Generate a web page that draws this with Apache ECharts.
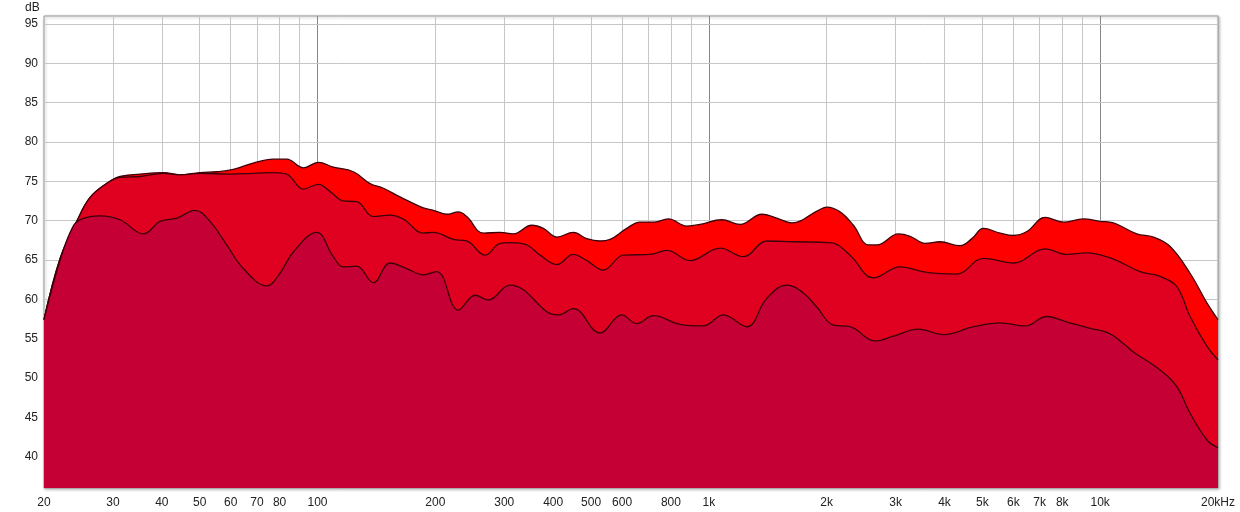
<!DOCTYPE html>
<html><head><meta charset="utf-8">
<script src="https://cdn.jsdelivr.net/npm/echarts@6/dist/echarts.min.js"></script>
<style>html,body{margin:0;padding:0;background:#fff}#c{width:1240px;height:512px}</style>
</head><body><div id="c"></div>
<script>
// Back curve (bright red)
const freqTop = [20,22,24.2,26.2,28.9,31.3,35.2,40.4,44.5,50.1,55.3,60.9,68.5,77.1,83.4,92,100.5,109.7,123.5,136.2,147.3,162.5,186.4,197.7,213.8,229,240.6,265.4,292.6,316.5,352.8,377.6,408.6,450.6,487.5,527.2,559.3,616.8,667.2,721.4,788.1,878.2,949.6,1079,1202,1366,1491,1629,1905,2001,2164,2340,2557,2687,3050,3268,3569,3898,4384,4698,5031,5548,6001,6494,7230,8053,9057,9990,10806,12404,13678,15090,16968,18752,20000];
const dbTop = [57.4,65.2,69.8,72.9,74.7,75.6,75.9,76.1,75.8,76.1,76.2,76.5,77.3,77.8,77.8,76.7,77.4,76.8,76.2,74.7,74.1,73.0,71.6,71.3,70.8,71.1,70.5,68.4,68.5,68.3,69.4,69.0,67.9,68.5,67.7,67.4,67.6,69.0,69.8,69.8,70.2,69.3,69.5,70.1,69.5,70.8,70.3,69.7,71.3,71.7,71.1,69.4,66.9,66.9,68.3,68.0,67.1,67.3,66.8,67.7,69.0,68.4,68.1,68.6,70.4,69.8,70.2,69.9,69.7,68.3,67.9,66.7,63.3,59.5,57.4];

// Middle curve (crimson)
const freqMid = [20,22,24.2,26.2,28.9,31.3,35.2,40.4,44.5,50.1,59.7,68.5,77.1,83.4,92,100.5,107.6,116.4,125.9,138.9,153.2,165.6,186.4,197.7,222.4,240.6,268,292.6,310.4,342.5,370.4,408.6,450.6,487.5,537.5,604.8,707.6,780.8,895.2,1068,1225,1406,1644,2040,2295,2632,3080,3606,4300,5031,6001,7230,8218,9240,10806,12647,14223,15694,16968,18752,20000];
const dbMid = [57.4,65.2,69.8,72.9,74.7,75.5,75.6,76.0,75.8,76.0,75.9,76.0,76.1,75.9,74.0,74.6,73.7,72.5,72.4,70.5,70.7,70.2,68.4,68.5,67.6,67.4,65.6,67.1,67.2,66.9,65.6,64.4,65.7,64.9,63.7,65.6,65.7,66.2,64.9,66.5,65.4,67.4,67.3,67.2,65.6,62.7,64.1,63.4,63.2,65.2,64.6,66.4,65.7,65.9,65.1,63.5,62.9,61.6,57.8,54.0,52.3];

// Front curve (dark red)
const freqLow = [20,22,23.7,25,27.8,31.3,35.9,39.6,43.7,48.6,53.1,58.6,64.6,74.2,80.2,86.7,99.5,109.7,116.4,125.9,138.9,153.2,169,186.4,201.7,229,252.8,273.3,310.4,335.8,385.4,412.4,450.6,527.2,599.1,654.3,721.4,844.4,968.2,1089,1250,1406,1581,1744,1887,2080,2295,2658,2962,3431,3977,4742,5548,6427,7304,8218,9424,10602,12157,14223,15694,16968,18752,20000];
const dbLow = [57.4,65.0,69.2,70.2,70.6,70.1,68.3,69.9,70.3,71.3,69.9,66.9,63.9,61.7,63.3,66.0,68.5,65.4,64.1,64.2,62.1,64.6,63.9,63.1,63.5,58.6,60.5,59.9,61.8,61.2,58.4,58.0,58.8,55.7,58.0,56.9,57.9,56.8,56.6,58.0,56.5,60.1,61.8,60.8,59.0,56.7,56.5,54.7,55.3,56.2,55.5,56.5,57.0,56.6,57.8,57.1,56.3,55.6,53.3,51.0,48.9,45.5,42.1,41.1];

// Axis ticks
const gridFreqs = [30,40,50,60,70,80,90,100,200,300,400,500,600,700,800,900,1000,2000,3000,4000,5000,6000,7000,8000,9000,10000];
const decadeFreqs = [100,1000,10000];
const xLabelFreqs = [20,30,40,50,60,70,80,100,200,300,400,500,600,800,1000,2000,3000,4000,5000,6000,7000,8000,10000,20000];
const xLabelTexts = ['20','30','40','50','60','70','80','100','200','300','400','500','600','800','1k','2k','3k','4k','5k','6k','7k','8k','10k','20kHz'];
const yTicks = [40,45,50,55,60,65,70,75,80,85,90,95];
const yMin = 36, yMax = 96;

const zip = (f, d) => f.map((v, i) => [v, d[i]]);
const labelFont = { fontFamily: 'Liberation Sans, Arial, sans-serif', fontSize: 12, color: '#222' };

const allX = Array.from(new Set(gridFreqs.concat(xLabelFreqs))).sort((a, b) => a - b);
const vLines = allX.map(f => {
  const li = xLabelFreqs.indexOf(f);
  const isGrid = gridFreqs.indexOf(f) >= 0;
  return {
    xAxis: f,
    lineStyle: { color: !isGrid ? 'rgba(0,0,0,0)' : (decadeFreqs.indexOf(f) >= 0 ? '#878787' : '#c6c6c6'), width: 1, type: 'solid' },
    label: Object.assign({ show: li >= 0, position: 'start', distance: 9, formatter: li >= 0 ? xLabelTexts[li] : '' }, labelFont)
  };
});
const hLines = yTicks.map(v => ({
  yAxis: v,
  lineStyle: { color: '#c6c6c6', width: 1, type: 'solid' },
  label: Object.assign({ show: true, position: 'start', distance: 6, formatter: String(v) }, labelFont)
}));

const lineCol = '#3c0008';
const mkArea = (name, data, fill, z) => ({
  name, type: 'line', data, smooth: 0.4, showSymbol: false, z,
  lineStyle: { color: lineCol, width: 1.3 },
  areaStyle: { color: fill, opacity: 1, origin: 'start' },
  silent: true
});

const chart = echarts.init(document.getElementById('c'), null, { renderer: 'canvas' });
chart.setOption({
  animation: false,
  backgroundColor: '#fff',
  grid: { left: 44, right: 22, top: 16, bottom: 24, show: true, backgroundColor: '#fff', borderColor: '#9c9c9c', borderWidth: 1,
          shadowColor: 'rgba(0,0,0,0.3)', shadowBlur: 3, shadowOffsetX: 1, shadowOffsetY: 1 },
  xAxis: { type: 'log', logBase: 10, min: 20, max: 20000, axisLine: { show: false }, axisTick: { show: false }, axisLabel: { show: false }, splitLine: { show: false }, minorSplitLine: { show: false } },
  yAxis: { type: 'value', min: yMin, max: yMax, axisLine: { show: false }, axisTick: { show: false }, axisLabel: { show: false }, splitLine: { show: false } },
  graphic: [{ type: 'text', left: 25, top: 2, style: { text: 'dB', fill: '#222', font: '12px Liberation Sans, Arial, sans-serif' } }],
  series: [
    { type: 'line', data: [[20, yMin]], showSymbol: false, lineStyle: { opacity: 0 }, z: 1, silent: true,
      markLine: { z: 1, silent: true, symbol: ['none', 'none'], animation: false, emphasis: { disabled: true }, data: vLines.concat(hLines) } },
    mkArea('back', zip(freqTop, dbTop), '#ff0000', 2),
    mkArea('mid', zip(freqMid, dbMid), '#e0001f', 3),
    mkArea('front', zip(freqLow, dbLow), '#c50034', 4)
  ]
});
</script>
</body></html>
